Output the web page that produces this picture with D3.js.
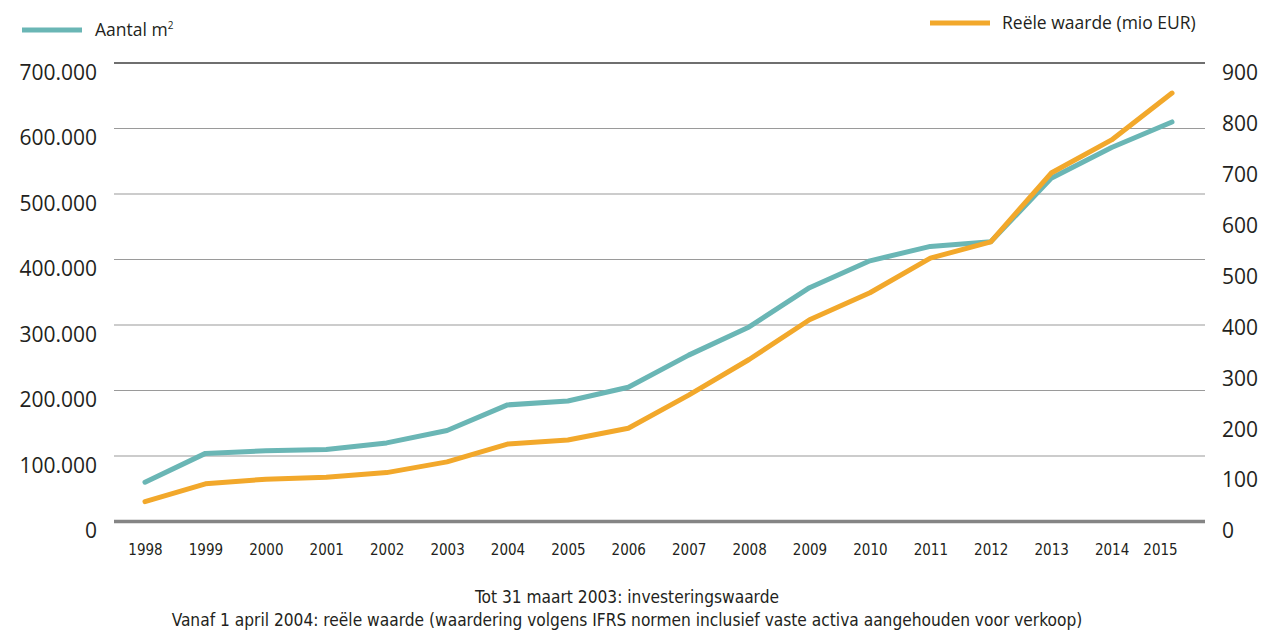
<!DOCTYPE html>
<html><head><meta charset="utf-8">
<script src="https://cdn.jsdelivr.net/npm/d3@7"></script>
<style>
body{margin:0;background:#fff;}
svg{display:block;}
.num{font-family:"Open Sans",sans-serif;font-size:21px;fill:#231f20;}
.yr{font-family:"Liberation Sans Narrow","DejaVu Sans Condensed",sans-serif;font-size:15px;fill:#231f20;}
.leg{font-family:"Open Sans",sans-serif;font-size:17.5px;fill:#231f20;}
.note{font-family:"Liberation Sans Narrow","DejaVu Sans Condensed",sans-serif;font-size:17.2px;fill:#231f20;}
</style></head>
<body>
<svg id="c" width="1265" height="635"></svg>
<script>
const years = ["1998","1999","2000","2001","2002","2003","2004","2005","2006","2007","2008","2009","2010","2011","2012","2013","2014","2015"];
const aantalM2 = [60000,104000,108000,110000,120000,139000,178000,184000,205000,254000,297000,357000,398000,420000,427000,524000,571000,610000];
const reeleWaarde = [39,74,83,87,96,117,152,160,183,248,318,396,449,517,549,684,749,841];
const leftTicks = [0,100000,200000,300000,400000,500000,600000,700000];
const rightTicks = [0,100,200,300,400,500,600,700,800,900];
const seriesNames = ["Aantal m\u00B2","Re\u00EBle waarde (mio EUR)"];
const notes = ["Tot 31 maart 2003: investeringswaarde","Vanaf 1 april 2004: re\u00EBle waarde (waardering volgens IFRS normen inclusief vaste activa aangehouden voor verkoop)"];

const teal = "#6ab6b5", orange = "#f2a82b";
const svg = d3.select("#c");
const L = 114, R = 1205, T = 63, B = 521.5;

const x = d3.scalePoint().domain(years).range([145, 1172]);
const yL = d3.scaleLinear().domain([0,700000]).range([B,T]);
const yR = d3.scaleLinear().domain([0,900]).range([B,T]);

const loc = d3.formatLocale({decimal:",",thousands:".",grouping:[3],currency:["€",""]});
const fmt = loc.format(",");

// gridlines
svg.append("g").selectAll("line").data(leftTicks).join("line")
  .attr("x1",L).attr("x2",R)
  .attr("y1",d=>yL(d)).attr("y2",d=>yL(d))
  .attr("stroke",d=> d===0 ? "#858585" : (d===700000 ? "#6f6f6f" : "#9a9a9a"))
  .attr("stroke-width",d=> d===0 ? 3.5 : (d===700000 ? 2 : 1.2));

// left axis
const gl = svg.append("g").attr("transform",`translate(${L},0)`)
  .call(d3.axisLeft(yL).tickValues(leftTicks).tickFormat(fmt).tickSize(0).tickPadding(17));
gl.select(".domain").remove();
gl.selectAll("text").attr("class","num").attr("dy","0.78em").attr("font-family",null).attr("font-size",null).attr("fill",null);

// right axis
const gr = svg.append("g").attr("transform",`translate(${R},0)`)
  .call(d3.axisRight(yR).tickValues(rightTicks).tickSize(0).tickPadding(17));
gr.select(".domain").remove();
gr.selectAll("text").attr("class","num").attr("dy","0.78em").attr("font-family",null).attr("font-size",null).attr("fill",null);

// x axis
const gx = svg.append("g").attr("transform",`translate(0,${B})`)
  .call(d3.axisBottom(x).tickSize(0).tickPadding(23));
gx.select(".domain").remove();
gx.selectAll("text").attr("class","yr").attr("font-family",null).attr("font-size",null).attr("fill",null)
  .attr("dx",(d,i)=> i===years.length-1 ? -12 : 0);

// lines
const lineL = d3.line().x((d,i)=>x(years[i])).y(d=>yL(d));
const lineR = d3.line().x((d,i)=>x(years[i])).y(d=>yR(d));
svg.append("path").datum(aantalM2).attr("d",lineL).attr("fill","none")
  .attr("stroke",teal).attr("stroke-width",5).attr("stroke-linecap","round").attr("stroke-linejoin","round");
svg.append("path").datum(reeleWaarde).attr("d",lineR).attr("fill","none")
  .attr("stroke",orange).attr("stroke-width",5).attr("stroke-linecap","round").attr("stroke-linejoin","round");

// legend
svg.append("line").attr("x1",22).attr("x2",82).attr("y1",30).attr("y2",30).attr("stroke",teal).attr("stroke-width",5);
const t1 = svg.append("text").attr("class","leg").attr("x",95).attr("y",36).text("Aantal m");
t1.append("tspan").attr("font-size","10px").attr("dy","-7").text("2");
svg.append("line").attr("x1",930).attr("x2",990).attr("y1",23).attr("y2",23).attr("stroke",orange).attr("stroke-width",5);
svg.append("text").attr("class","leg").attr("x",1002).attr("y",29).text(seriesNames[1]);

// notes
svg.selectAll("text.note").data(notes).join("text").attr("class","note")
  .attr("x",627).attr("y",(d,i)=>603+i*23).attr("text-anchor","middle").text(d=>d);
</script>
</body></html>
